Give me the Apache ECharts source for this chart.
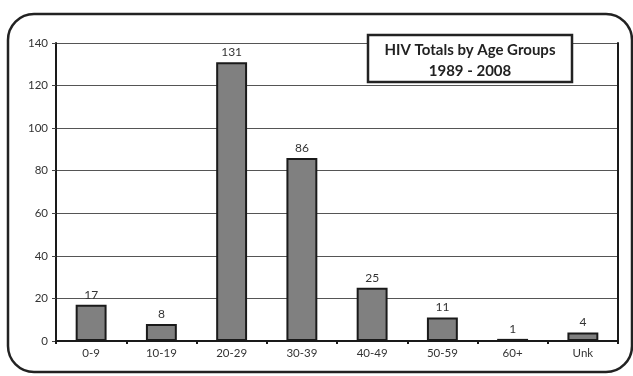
<!DOCTYPE html>
<html><head><meta charset="utf-8">
<script src="https://cdn.jsdelivr.net/npm/echarts@6/dist/echarts.min.js"></script>
<style>html,body{margin:0;padding:0;background:#fff}#c{width:633px;height:376px}</style>
</head><body><div id="c"></div>
<script>
const categories = ["0-9","10-19","20-29","30-39","40-49","50-59","60+","Unk"];
const totals = [17, 8, 131, 86, 25, 11, 1, 4];
const titleLines = ["HIV Totals by Age Groups", "1989 - 2008"];
const yTicks = {min: 0, max: 140, interval: 20};

const chart = echarts.init(document.getElementById('c'));
const font = 'Lato, "DejaVu Sans", sans-serif';
chart.setOption({
  animation: false,
  grid: {left: 56, right: 15, top: 43, bottom: 35},
  xAxis: {
    type: 'category', data: categories,
    axisLine: {lineStyle: {color: '#1a1a1a', width: 2}},
    axisTick: {show: true, interval: 0, length: 3, lineStyle: {color: '#1a1a1a', width: 2}},
    axisLabel: {color: '#333', fontFamily: font, fontSize: 11.5, margin: 6}
  },
  yAxis: [{
    type: 'value', min: yTicks.min, max: yTicks.max, interval: yTicks.interval,
    axisLine: {show: true, lineStyle: {color: '#1a1a1a', width: 2}},
    axisTick: {show: true, length: 4, lineStyle: {color: '#444', width: 1}},
    axisLabel: {color: '#333', fontFamily: font, fontSize: 11.5, margin: 8},
    splitLine: {lineStyle: {color: '#555', width: 1}}
  }, {
    type: 'value', min: yTicks.min, max: yTicks.max, interval: yTicks.interval, position: 'right',
    axisLine: {show: true, lineStyle: {color: '#1a1a1a', width: 2}},
    axisTick: {show: false}, axisLabel: {show: false}, splitLine: {show: false}
  }],
  series: [{
    type: 'bar', data: totals, barWidth: '44%',
    itemStyle: {color: '#808080', borderColor: '#1a1a1a', borderWidth: 2},
    label: {show: true, position: 'top', color: '#333', fontFamily: font, fontSize: 12, distance: 4}
  }],
  graphic: [
    {type: 'rect', shape: {x: 8, y: 14, width: 624, height: 358, r: 26}, z: 100,
     style: {fill: 'none', stroke: '#222', lineWidth: 2.5}},
    {type: 'rect', shape: {x: 368, y: 35, width: 204, height: 47}, z: 100,
     style: {fill: '#fff', stroke: '#222', lineWidth: 2.5}},
    {type: 'text', x: 470, y: 50, z: 101,
     style: {text: titleLines[0], fill: '#222', font: 'bold 15px ' + font, textAlign: 'center', textVerticalAlign: 'middle'}},
    {type: 'text', x: 470, y: 71, z: 101,
     style: {text: titleLines[1], fill: '#222', font: 'bold 15px ' + font, textAlign: 'center', textVerticalAlign: 'middle'}}
  ]
});
</script></body></html>
